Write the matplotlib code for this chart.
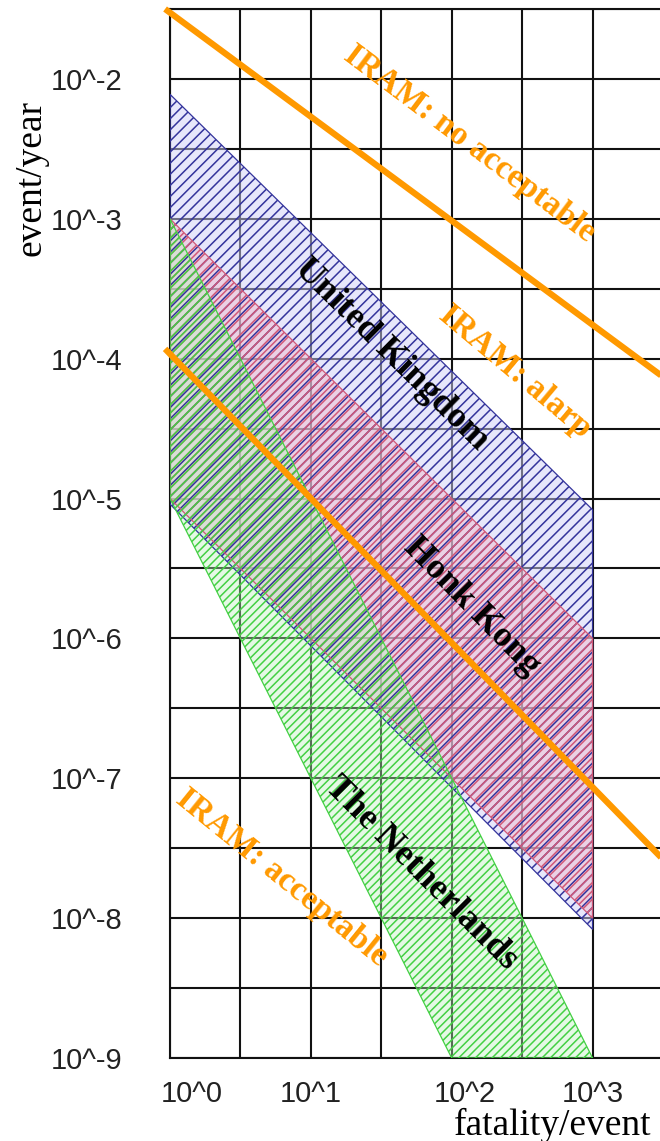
#!/usr/bin/env python3

import matplotlib
matplotlib.use("Agg")
import matplotlib.pyplot as plt
import matplotlib.transforms as mtransforms
import numpy as np

# F-N criteria: fatalities per event (N) vs frequency (events/year)
uk_n = [1, 1000]
uk_upper = [10**-2.11, 10**-5.08]
uk_lower = [10**-5.04, 10**-8.08]

hk_n = [1, 1000]
hk_upper = [1e-3, 1e-6]
hk_lower = [1e-5, 1e-8]

nl_n_upper = [1, 1000]
nl_upper = [1e-3, 1e-9]
nl_n_lower = [1, 100]
nl_lower = [1e-5, 1e-9]

# IRAM limit lines
iram_n = [10**-0.035, 10**3.5]
iram_upper = [10**-1.5, 10**-4.13]
iram_lower = [10**-3.93, 10**-7.58]

x_ticks = [10**(k / 2) for k in range(0, 8)]
x_labels = ["10^0", "", "10^1", "", "10^2", "", "10^3", ""]
y_ticks = [10**(-k / 2) for k in range(3, 19)]
y_labels = ["", "10^-2", "", "10^-3", "", "10^-4", "", "10^-5", "",
            "10^-6", "", "10^-7", "", "10^-8", "", "10^-9"]

ORANGE = "#ff9900"
SERIF = ["Liberation Serif", "DejaVu Serif"]

plt.rcParams["hatch.linewidth"] = 1.1

W, H = 660, 1141
fig = plt.figure(figsize=(W / 100, H / 100), dpi=100)
ax = fig.add_axes([170 / W, 1 - 1058 / H, 493 / W, 1049 / H])
ax.set_xscale("log")
ax.set_yscale("log")
ax.set_xlim(1, 10**3.5)
ax.set_ylim(1e-9, 10**-1.5)


def region(n_top, top, n_bot, bot, face, hatch_col, hatch, alpha):
    xs = list(n_top) + list(n_bot[::-1])
    ys = list(top) + list(bot[::-1])
    ax.fill(xs, ys, facecolor=face, alpha=alpha, linewidth=0, zorder=2)
    ax.fill(xs, ys, facecolor="none", edgecolor=hatch_col, hatch=hatch,
            linewidth=0.9, zorder=3)


region(uk_n, uk_upper, uk_n, uk_lower, "#d0d0f8", "#34349c", "///", 0.5)
region(hk_n, hk_upper, hk_n, hk_lower, "#f2b8c8", "#d05878", "////", 0.45)
region(nl_n_upper, nl_upper, nl_n_lower, nl_lower, "#c0f2c0", "#44d044", "////", 0.4)

ax.plot(iram_n, iram_upper, color=ORANGE, lw=4.5, solid_capstyle="butt",
        clip_on=False, zorder=5)
ax.plot(iram_n, iram_lower, color=ORANGE, lw=4.5, solid_capstyle="butt",
        clip_on=False, zorder=5)

# grid on half decades, labels only on whole decades
ax.xaxis.set_major_locator(matplotlib.ticker.FixedLocator(x_ticks))
ax.xaxis.set_major_formatter(matplotlib.ticker.FixedFormatter(x_labels))
ax.yaxis.set_major_locator(matplotlib.ticker.FixedLocator(y_ticks))
ax.yaxis.set_major_formatter(matplotlib.ticker.FixedFormatter(y_labels))
ax.xaxis.set_minor_locator(matplotlib.ticker.NullLocator())
ax.yaxis.set_minor_locator(matplotlib.ticker.NullLocator())
ax.grid(True, color="#111111", lw=1.5)
ax.set_axisbelow(True)
for sp in ax.spines.values():
    sp.set_color("#111111")
    sp.set_linewidth(1.5)

ax.tick_params(axis="both", length=0, labelsize=21, labelcolor="#222222")
ax.tick_params(axis="x", pad=16)
ax.tick_params(axis="y", pad=34)
for lab in ax.get_xticklabels() + ax.get_yticklabels():
    lab.set_fontfamily(["Liberation Sans", "DejaVu Sans"])

# nudge a few decade labels sideways
x_shift = [0.22, 0, 0, 0, 0.13, 0, 0, 0]
for tick, dx in zip(ax.xaxis.get_major_ticks(), x_shift):
    off = mtransforms.ScaledTranslation(dx, 0, fig.dpi_scale_trans)
    tick.label1.set_transform(tick.label1.get_transform() + off)

# region and limit labels
labels = [
    ("IRAM: no acceptable", 2.13, -2.465, -37, ORANGE, 24),
    ("IRAM: alarp", 2.447, -4.095, -40, ORANGE, 24),
    ("IRAM: acceptable", 0.794, -7.71, -39, ORANGE, 24),
    ("United Kingdom", 1.574, -3.973, -44.5, "black", 26),
    ("Honk Kong", 2.142, -5.775, -45.5, "black", 26),
    ("The Netherlands", 1.787, -7.676, -45, "black", 26),
]
for txt, lx, ly, rot, col, fs in labels:
    ax.text(10**lx, 10**ly, txt, rotation=rot, rotation_mode="anchor",
            ha="center", va="center", color=col, fontsize=fs,
            fontweight="bold", family=SERIF, zorder=6)

fig.text(31 / W, 1 - 178 / H, "event/year", rotation=90, ha="center",
         va="center", fontsize=27, family=SERIF)
fig.text(553 / W, 1 - 1125 / H, "fatality/event", ha="center",
         va="center", fontsize=27, family=SERIF)

fig.savefig("out.png", dpi=100)
